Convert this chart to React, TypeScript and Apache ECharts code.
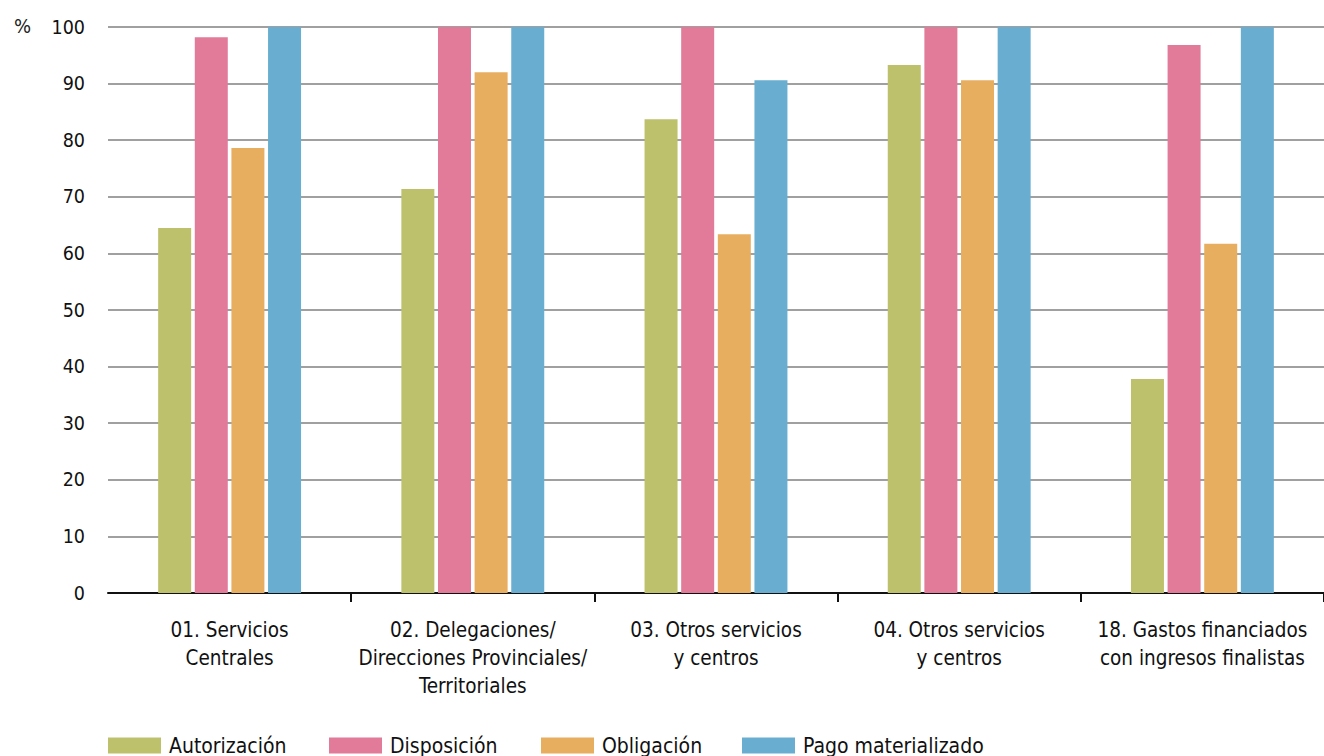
import React, { useEffect, useRef } from "react";
import * as echarts from "echarts";

const categories = [
  "01. Servicios\nCentrales",
  "02. Delegaciones/\nDirecciones Provinciales/\nTerritoriales",
  "03. Otros servicios\ny centros",
  "04. Otros servicios\ny centros",
  "18. Gastos financiados\ncon ingresos finalistas",
];
const seriesNames = ["Autorización", "Disposición", "Obligación", "Pago materializado"];
const autorizacion = [64.5, 71.4, 83.7, 93.3, 37.8];
const disposicion = [98.2, 100, 100, 100, 96.8];
const obligacion = [78.6, 92.0, 63.4, 90.6, 61.7];
const pago = [100, 100, 90.6, 100, 100];
const colors = ["#bec16c", "#e27a9a", "#e8ae60", "#69aed1"];
const legendLefts = [108, 329, 541, 742];

const FONT = "'Liberation Sans Narrow', 'DejaVu Sans Condensed', Roboto, sans-serif";

export default function App() {
  const ref = useRef<HTMLDivElement>(null);
  useEffect(() => {
    const chart = echarts.init(ref.current!, null, { renderer: "svg" });
    const data = [autorizacion, disposicion, obligacion, pago];
    chart.setOption({
      animation: false,
      textStyle: { fontFamily: FONT },
      grid: { left: 108, right: 0, top: 27, bottom: 163 },
      legend: seriesNames.map((n, i) => ({
        data: [n],
        left: legendLefts[i],
        top: 735,
        itemWidth: 53,
        itemHeight: 16,
        icon: "rect",
        padding: 0,
        textStyle: { fontSize: 21, color: "#111", fontFamily: FONT, padding: [0, 0, 0, 3] },
      })),
      graphic: [
        {
          type: "text",
          left: 14,
          top: 16,
          style: { text: "%", fontSize: 20, fill: "#222", fontFamily: FONT },
        },
      ],
      xAxis: {
        type: "category",
        data: categories,
        axisLine: { lineStyle: { color: "#111", width: 2 } },
        axisTick: {
          show: true,
          length: 9,
          interval: (index: number) => index > 0,
          lineStyle: { color: "#111", width: 2 },
        },
        axisLabel: {
          fontSize: 20.5,
          lineHeight: 28,
          color: "#111",
          margin: 23,
          fontFamily: FONT,
          interval: 0,
        },
      },
      yAxis: {
        type: "value",
        min: 0,
        max: 100,
        interval: 10,
        axisLine: { show: false },
        axisTick: { show: false },
        axisLabel: { fontSize: 19.5, color: "#111", margin: 23, fontFamily: FONT },
        splitLine: { lineStyle: { color: "#a0a0a0", width: 2 } },
      },
      series: data.map((d, i) => ({
        name: seriesNames[i],
        type: "bar",
        data: d,
        barWidth: 33,
        barGap: "11%",
        itemStyle: { color: colors[i] },
      })),
    });
    return () => chart.dispose();
  }, []);
  return <div ref={ref} style={{ width: 1324, height: 756, position: "absolute", left: 0, top: 0 }} />;
}
